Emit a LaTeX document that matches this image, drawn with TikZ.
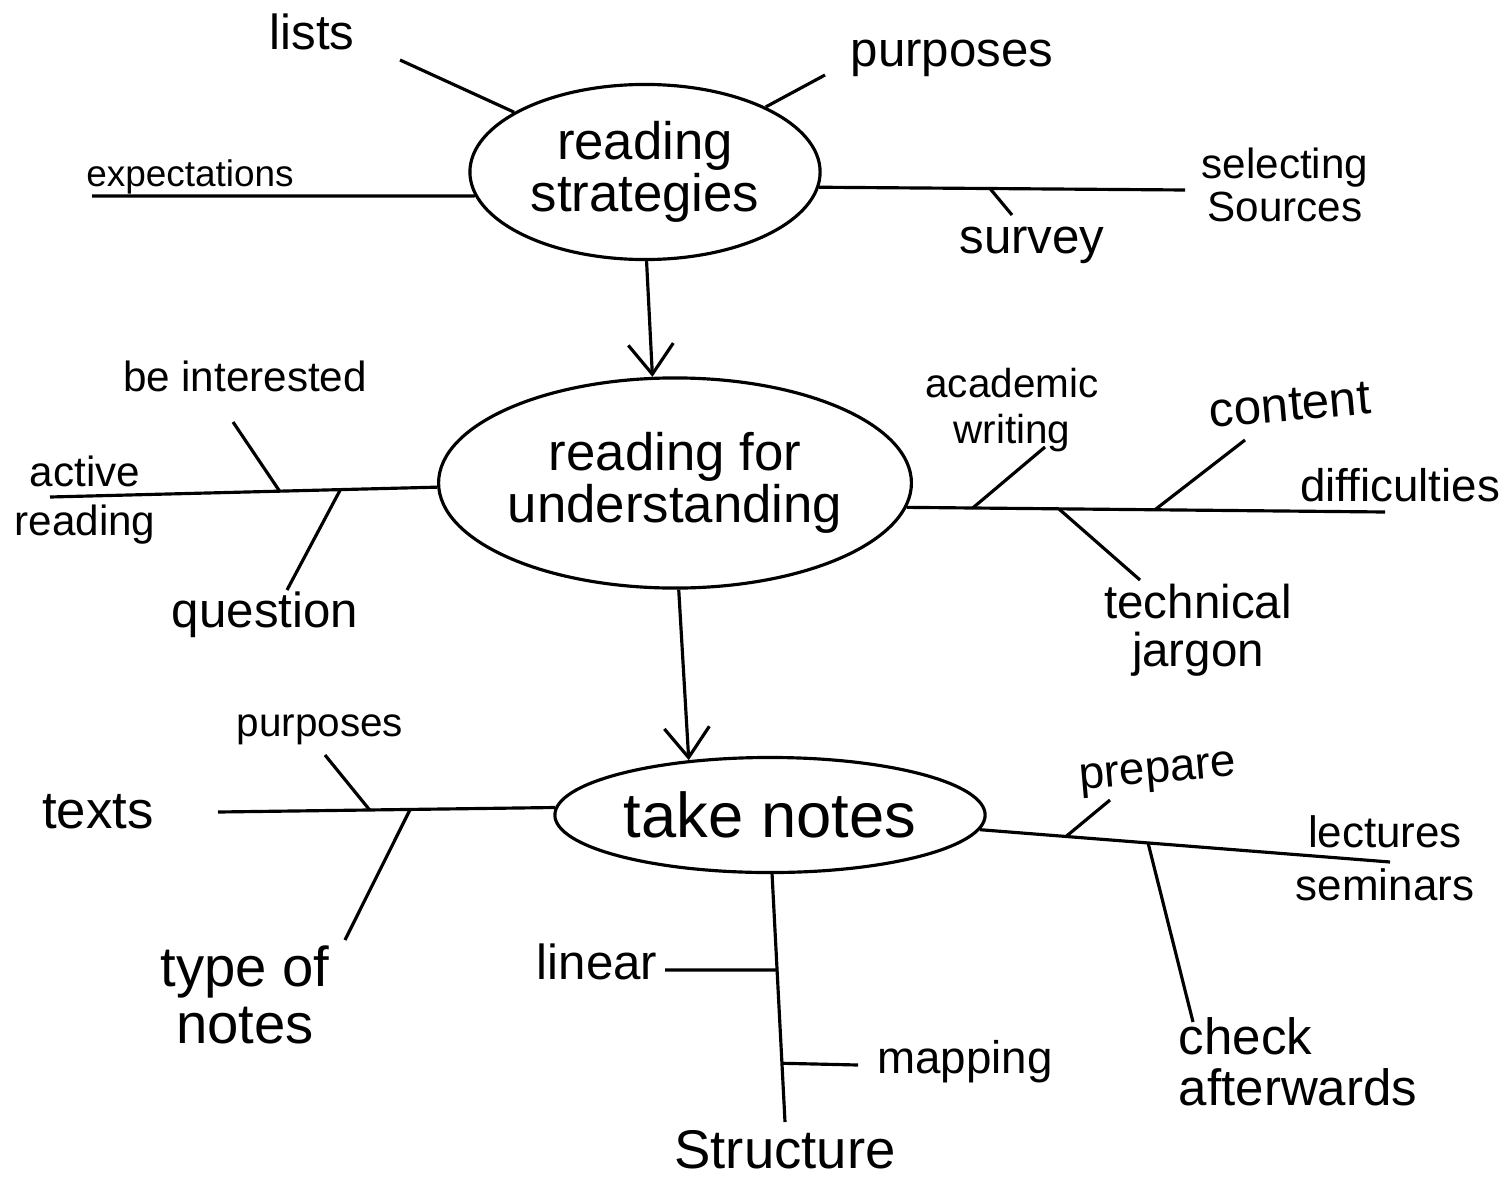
\documentclass[tikz,border=0pt]{standalone}
\usepackage{fontspec}
\setmainfont{Liberation Sans}
\usetikzlibrary{shapes.geometric,arrows.meta,calc}
\begin{document}
\begin{tikzpicture}[x=0.01cm,y=-0.01cm,
    blob/.style={ellipse, draw, line width=0.9pt, inner sep=0pt, align=center},
    word/.style={inner sep=1pt, align=center},
    branch/.style={line width=0.9pt},
    flow/.style={line width=0.9pt, -{Straight Barb[length=3mm,width=4.5mm]}}]
    \fill[white] (0,0) rectangle (1507,1179);
    \useasboundingbox (0,0) rectangle (1507,1179);

    \node [blob, minimum width=3.5cm, minimum height=1.75cm, font=\fontsize{15}{13}\selectfont] (rs) at (645,172) {reading\\strategies};
    \node [blob, minimum width=4.65cm, minimum height=2.1cm, font=\fontsize{15}{13}\selectfont] (ru) at (675,483) {reading for\\understanding};
    \node [blob, minimum width=4.3cm, minimum height=1.15cm, font=\fontsize{18}{20}\selectfont] (tn) at (770,815) {take notes};

    \node [word, font=\fontsize{14}{14}\selectfont] (lists) at (312,32) {lists};
    \node [word, font=\fontsize{14}{14}\selectfont] (purp1) at (952,58) {purposes};
    \node [word, font=\fontsize{10.5}{11}\selectfont] (expect) at (190,177) {expectations};
    \node [word, font=\fontsize{12}{12}\selectfont] (select) at (1285,185) {selecting\\Sources};
    \node [word, font=\fontsize{14}{14}\selectfont] (survey) at (1032,245) {survey};

    \node [word, font=\fontsize{12}{12}\selectfont] (interest) at (245,376) {be interested};
    \node [word, font=\fontsize{12}{14}\selectfont] (active) at (85,500) {active\\reading};
    \node [word, font=\fontsize{14}{14}\selectfont] (quest) at (265,615) {question};
    \node [word, font=\fontsize{11.5}{13}\selectfont] (acad) at (1012,410) {academic\\writing};
    \node [word, font=\fontsize{14}{14}\selectfont, rotate=5] (content) at (1290,405) {content};
    \node [word, font=\fontsize{13}{13}\selectfont] (diff) at (1400,485) {difficulties};
    \node [word, font=\fontsize{13.5}{13.5}\selectfont] (jargon) at (1198,630) {technical\\jargon};

    \node [word, font=\fontsize{11.5}{12}\selectfont] (purp2) at (320,730) {purposes};
    \node [word, font=\fontsize{15}{15}\selectfont] (texts) at (98,812) {texts};
    \node [word, font=\fontsize{16}{16}\selectfont] (typeof) at (245,995) {type of\\notes};
    \node [word, font=\fontsize{13}{13}\selectfont, rotate=5] (prepare) at (1158,775) {prepare};
    \node [word, font=\fontsize{12.5}{15}\selectfont] (lect) at (1385,858) {lectures\\seminars};
    \node [word, font=\fontsize{14.5}{14.5}\selectfont, align=left] (check) at (1298,1062) {check\\afterwards};
    \node [word, font=\fontsize{14}{14}\selectfont] (linear) at (597,962) {linear};
    \node [word, font=\fontsize{13}{13}\selectfont] (mapping) at (965,1062) {mapping};
    \node [word, font=\fontsize{15.5}{16}\selectfont] (struct) at (785,1150) {Structure};

    \coordinate (lists-e) at (400,60);
    \coordinate (purp1-e) at (825,75);
    \coordinate (expect-e) at (92,196);
    \coordinate (select-e) at (1185,190);
    \coordinate (survey-j) at ($(rs.355)!0.467!(select-e)$);
    \coordinate (survey-e) at (1012,215);

    \coordinate (active-e) at (50,497);
    \coordinate (interest-j) at ($(ru.181)!0.407!(active-e)$);
    \coordinate (interest-e) at (233,422);
    \coordinate (quest-j) at ($(ru.181)!0.25!(active-e)$);
    \coordinate (quest-e) at (287,590);
    \coordinate (diff-e) at (1385,512);
    \coordinate (acad-j) at ($(ru.354)!0.138!(diff-e)$);
    \coordinate (acad-e) at (1045,447);
    \coordinate (jargon-j) at ($(ru.354)!0.318!(diff-e)$);
    \coordinate (jargon-e) at (1140,580);
    \coordinate (content-j) at ($(ru.354)!0.519!(diff-e)$);
    \coordinate (content-e) at (1245,440);

    \coordinate (texts-e) at (218,812);
    \coordinate (purp2-j) at ($(tn.178)!0.55!(texts-e)$);
    \coordinate (purp2-e) at (325,755);
    \coordinate (typeof-j) at ($(tn.178)!0.43!(texts-e)$);
    \coordinate (typeof-e) at (345,940);
    \coordinate (lect-e) at (1390,862);
    \coordinate (prepare-j) at ($(tn.356)!0.21!(lect-e)$);
    \coordinate (prepare-e) at (1110,800);
    \coordinate (check-j) at ($(tn.356)!0.41!(lect-e)$);
    \coordinate (check-e) at (1193,1022);
    \coordinate (struct-e) at (785,1122);
    \coordinate (linear-j) at ($(tn.272)!0.387!(struct-e)$);
    \coordinate (linear-e) at (665,970);
    \coordinate (mapping-j) at ($(tn.272)!0.763!(struct-e)$);
    \coordinate (mapping-e) at (858,1065);

    \draw [flow] (rs.271) -- (ru.102);
    \draw [flow] (ru.272) -- (tn.146);

    \draw [branch] (rs) -- (lists-e);
    \draw [branch] (rs) -- (purp1-e);
    \draw [branch] (rs.188) -- (expect-e);
    \draw [branch] (rs.355) -- (select-e);
    \draw [branch] (survey-j) -- (survey-e);

    \draw [branch] (ru.181) -- (active-e);
    \draw [branch] (interest-j) -- (interest-e);
    \draw [branch] (quest-j) -- (quest-e);
    \draw [branch] (ru.354) -- (diff-e);
    \draw [branch] (acad-j) -- (acad-e);
    \draw [branch] (jargon-j) -- (jargon-e);
    \draw [branch] (content-j) -- (content-e);

    \draw [branch] (tn.178) -- (texts-e);
    \draw [branch] (purp2-j) -- (purp2-e);
    \draw [branch] (typeof-j) -- (typeof-e);
    \draw [branch] (tn.356) -- (lect-e);
    \draw [branch] (prepare-j) -- (prepare-e);
    \draw [branch] (check-j) -- (check-e);
    \draw [branch] (tn.272) -- (struct-e);
    \draw [branch] (linear-j) -- (linear-e);
    \draw [branch] (mapping-j) -- (mapping-e);
\end{tikzpicture}
\end{document}
